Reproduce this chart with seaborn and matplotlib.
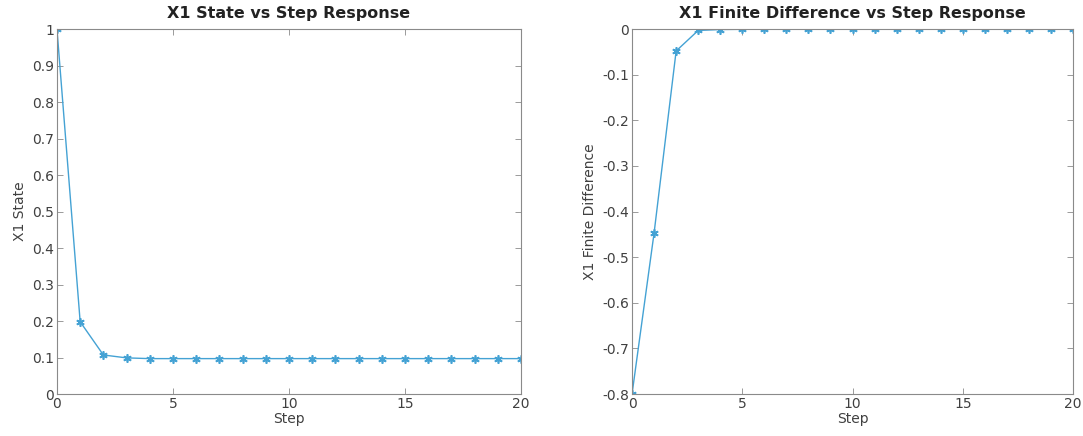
import numpy as np
import pandas as pd
import matplotlib
matplotlib.use("Agg")
import matplotlib.pyplot as plt
import seaborn as sns

steps = list(range(21))
x1_state = [1.0, 0.198, 0.107, 0.099, 0.097, 0.097, 0.097, 0.097, 0.097, 0.097,
            0.097, 0.097, 0.097, 0.097, 0.097, 0.097, 0.097, 0.097, 0.097, 0.097, 0.097]
x1_diff = [-0.8, -0.447, -0.048, -0.003, -0.001, -0.0005, 0.0, 0.0, 0.0, 0.0,
           0.0, 0.0, 0.0, 0.0, 0.0, 0.0, 0.0, 0.0, 0.0, 0.0, 0.0]

sns.set_style("white")
plt.rcParams["font.family"] = ["DejaVu Sans"]

line_color = "#44a2d4"
tick_color = "#404040"
spine_color = "#8a8a8a"
asterisk = (6, 2, 0)

fig = plt.figure(figsize=(10.83, 4.36), dpi=100)
ax1 = fig.add_axes([0.0526, 0.0963, 0.4284, 0.837])
ax2 = fig.add_axes([0.5836, 0.0963, 0.4072, 0.837])

df1 = pd.DataFrame({"Step": steps, "X1 State": x1_state})
df2 = pd.DataFrame({"Step": steps, "X1 Finite Difference": x1_diff})

for ax, df, ycol in [(ax1, df1, "X1 State"), (ax2, df2, "X1 Finite Difference")]:
    sns.lineplot(data=df, x="Step", y=ycol, ax=ax, color=line_color,
                 marker=asterisk, markersize=6, linewidth=1.0,
                 markeredgecolor=line_color, markeredgewidth=1.2)

def style(ax, title, ylim, yticks, yticklabels):
    ax.set_xlim(0, 20)
    ax.set_ylim(*ylim)
    ax.set_xticks([0, 5, 10, 15, 20])
    ax.set_xticklabels(["0", "5", "10", "15", "20"])
    ax.set_yticks(yticks)
    ax.set_yticklabels(yticklabels)
    ax.set_title(title, fontsize=11.5, fontweight="bold", color="#222222", pad=8)
    ax.set_xlabel("Step", fontsize=10, color=tick_color, labelpad=1)
    ax.set_ylabel(ax.get_ylabel(), fontsize=10, color=tick_color, labelpad=4)
    for s in ax.spines.values():
        s.set_visible(True)
        s.set_color(spine_color)
        s.set_linewidth(0.8)
    ax.tick_params(direction="in", length=4, width=0.6, colors=spine_color,
                   labelcolor=tick_color, labelsize=10, top=True, right=True,
                   bottom=True, left=True, pad=2)
    ax.grid(False)

style(ax1, "X1 State vs Step Response", (0, 1),
      np.round(np.arange(0, 1.01, 0.1), 1),
      ["0", "0.1", "0.2", "0.3", "0.4", "0.5", "0.6", "0.7", "0.8", "0.9", "1"])
style(ax2, "X1 Finite Difference vs Step Response", (-0.8, 0),
      np.round(np.arange(-0.8, 0.01, 0.1), 1),
      ["-0.8", "-0.7", "-0.6", "-0.5", "-0.4", "-0.3", "-0.2", "-0.1", "0"])

fig.savefig("out.png", dpi=100)
